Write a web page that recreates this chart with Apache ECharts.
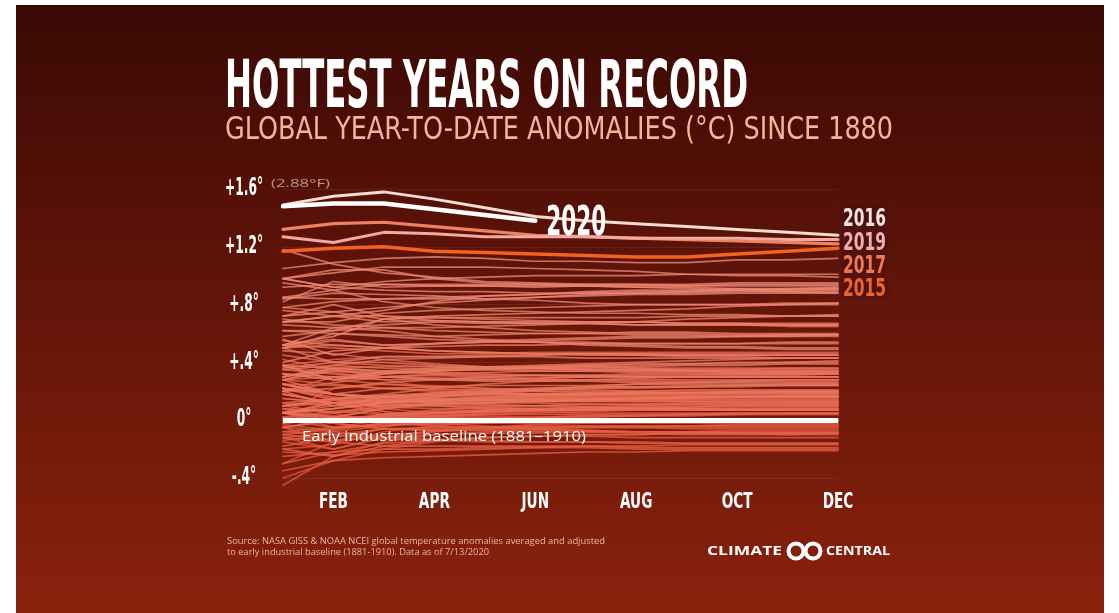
<!DOCTYPE html>
<html>
<head>
<meta charset="utf-8">
<script src="https://cdn.jsdelivr.net/npm/echarts@6/dist/echarts.min.js"></script>
<style>
  html, body { margin: 0; padding: 0; background: #fff; }
  #chart { width: 1119px; height: 613px; }
</style>
</head>
<body>
<div id="chart"></div>
<script>
// Month categories and y ticks
const months = ['JAN', 'FEB', 'MAR', 'APR', 'MAY', 'JUN', 'JUL', 'AUG', 'SEP', 'OCT', 'NOV', 'DEC'];
const yTicks = [-0.4, 0, 0.4, 0.8, 1.2, 1.6];
const yTickLabels = ['-.4°', '0°', '+.4°', '+.8°', '+1.2°', '+1.6°'];

// Year-to-date global anomalies (°C vs 1881–1910), Jan..Dec, one row per year
const ytd1880s = [
  [-.03,-.07,-.02,.03,.05,.06,.07,.08,.08,.09,.10,.10],
  [.05,.02,.08,.12,.15,.15,.17,.18,.18,.18,.18,.18],
  [.37,.33,.28,.22,.20,.18,.17,.17,.17,.16,.16,.16],
  [-.05,-.15,-.05,.02,.05,.07,.09,.10,.10,.10,.10,.10],
  [.10,.12,.06,.02,.01,.01,.00,.00,-.01,-.01,-.01,-.01],
  [-.30,-.15,-.10,-.08,-.06,-.05,-.05,-.05,-.06,-.06,-.06,-.06],
  [-.15,-.20,-.12,-.07,-.05,-.05,-.04,-.04,-.04,-.04,-.04,-.04],
  [-.40,-.28,-.20,-.15,-.12,-.11,-.10,-.10,-.09,-.09,-.09,-.09],
  [-.05,.00,-.02,.02,.04,.05,.06,.07,.08,.08,.09,.09],
  [.05,.22,.25,.24,.22,.20,.19,.18,.17,.17,.16,.16]
];
const ytd1890s = [
  [.05,-.02,-.06,-.07,-.06,-.07,-.08,-.08,-.08,-.08,-.08,-.08],
  [-.12,-.08,-.04,-.01,.01,.02,.03,.03,.04,.04,.04,.04],
  [.08,.05,-.02,-.03,-.02,-.01,-.01,.00,.00,.00,.00,.00],
  [-.45,-.25,-.15,-.10,-.08,-.06,-.05,-.05,-.04,-.04,-.04,-.04],
  [-.14,-.10,-.06,-.06,-.05,-.05,-.05,-.05,-.05,-.05,-.05,-.05],
  [-.20,-.17,-.08,-.04,-.01,.01,.02,.03,.03,.04,.04,.04],
  [.10,.12,.10,.12,.14,.15,.15,.16,.16,.16,.16,.16],
  [.12,.10,.12,.14,.16,.17,.17,.17,.16,.16,.16,.16],
  [.18,.12,.06,.03,.02,.01,.01,.00,.00,.00,.00,.00],
  [.05,-.05,.00,.04,.06,.07,.08,.09,.09,.10,.10,.10]
];
const ytd1900s = [
  [.00,.05,.10,.13,.15,.16,.17,.18,.18,.19,.19,.19],
  [.10,.15,.16,.15,.14,.14,.13,.13,.13,.12,.12,.12],
  [.22,.15,.08,.05,.03,.02,.01,.00,.00,-.01,-.01,-.01],
  [.05,.12,.04,-.02,-.04,-.06,-.07,-.08,-.09,-.09,-.10,-.10],
  [-.25,-.22,-.20,-.20,-.19,-.19,-.19,-.20,-.20,-.20,-.20,-.20],
  [-.12,-.20,-.12,-.08,-.05,-.03,-.02,-.01,.00,.00,.01,.01],
  [-.02,.00,.02,.05,.06,.06,.05,.05,.05,.05,.05,.05],
  [-.30,-.22,-.16,-.14,-.12,-.11,-.11,-.12,-.12,-.12,-.12,-.12],
  [-.05,-.08,-.12,-.13,-.14,-.15,-.15,-.15,-.16,-.16,-.16,-.16],
  [-.35,-.28,-.26,-.25,-.24,-.23,-.22,-.22,-.21,-.21,-.21,-.21]
];
const ytd1910s = [
  [-.08,-.10,-.13,-.14,-.15,-.15,-.15,-.16,-.16,-.16,-.16,-.16],
  [-.22,-.24,-.22,-.21,-.20,-.19,-.18,-.18,-.17,-.17,-.17,-.17],
  [.02,-.02,-.06,-.07,-.07,-.08,-.08,-.09,-.10,-.10,-.10,-.09],
  [-.10,-.14,-.12,-.10,-.09,-.09,-.08,-.08,-.08,-.07,-.07,-.07],
  [.00,-.02,.02,.05,.07,.08,.09,.10,.11,.11,.12,.12],
  [.05,.12,.14,.14,.14,.14,.14,.13,.13,.13,.13,.13],
  [.08,.02,-.02,-.04,-.05,-.06,-.07,-.08,-.08,-.09,-.09,-.09],
  [-.12,-.15,-.18,-.18,-.18,-.18,-.18,-.19,-.19,-.19,-.19,-.19],
  [-.18,-.12,-.06,-.05,-.05,-.04,-.04,-.04,-.04,-.03,-.03,-.03],
  [.05,.03,.01,-.01,-.01,.00,.00,.01,.01,.00,.00,.00]
];
const ytd1920s = [
  [.08,.06,.04,.02,.01,.01,.00,.00,.00,.00,.00,.00],
  [.15,.12,.11,.10,.09,.08,.08,.08,.07,.07,.08,.08],
  [-.08,-.05,-.03,-.02,-.02,-.01,-.01,-.01,-.01,-.01,-.01,-.01],
  [.00,-.05,-.04,-.02,-.01,-.01,.00,.00,.00,.01,.01,.01],
  [.05,.02,.02,.01,.01,.00,.00,.00,.00,.00,.00,.00],
  [-.10,-.06,-.02,.00,.01,.02,.03,.03,.04,.04,.05,.05],
  [.28,.25,.22,.20,.19,.18,.18,.17,.17,.17,.17,.17],
  [.06,.02,.02,.03,.04,.04,.04,.04,.04,.05,.05,.05],
  [.18,.12,.09,.08,.08,.07,.07,.07,.07,.07,.07,.07],
  [-.20,-.25,-.18,-.14,-.12,-.11,-.10,-.10,-.09,-.09,-.09,-.09]
];
const ytd1930s = [
  [.02,.06,.09,.10,.10,.10,.11,.11,.11,.11,.11,.11],
  [.10,.12,.14,.16,.17,.17,.18,.18,.18,.18,.18,.18],
  [.25,.18,.14,.13,.12,.12,.11,.11,.11,.11,.11,.11],
  [.05,.02,-.01,-.02,-.02,-.02,-.02,-.02,-.02,-.02,-.02,-.02],
  [.10,.05,.08,.11,.12,.13,.14,.14,.15,.15,.15,.15],
  [.22,.16,.12,.10,.08,.08,.07,.07,.07,.07,.07,.07],
  [.02,-.02,.04,.07,.09,.10,.11,.11,.12,.12,.12,.12],
  [.12,.15,.17,.19,.20,.21,.22,.22,.23,.23,.24,.24],
  [.28,.30,.30,.29,.28,.28,.28,.27,.27,.27,.27,.27],
  [.25,.24,.22,.21,.21,.22,.23,.23,.24,.24,.25,.25]
];
const ytd1940s = [
  [.20,.30,.33,.35,.36,.37,.38,.38,.39,.39,.40,.40],
  [.38,.42,.44,.44,.45,.45,.46,.46,.46,.46,.46,.46],
  [.45,.40,.38,.37,.36,.35,.35,.34,.34,.34,.34,.34],
  [.20,.26,.30,.32,.33,.34,.34,.35,.35,.35,.36,.36],
  [.52,.50,.48,.46,.46,.47,.47,.47,.47,.47,.47,.47],
  [.42,.35,.33,.35,.36,.37,.37,.36,.36,.36,.36,.36],
  [.32,.28,.25,.23,.22,.21,.21,.20,.20,.20,.20,.20],
  [.15,.12,.16,.19,.21,.22,.23,.23,.23,.24,.24,.24],
  [.22,.14,.13,.14,.15,.15,.16,.16,.16,.16,.16,.16],
  [.25,.18,.16,.15,.15,.15,.15,.15,.16,.16,.16,.16]
];
const ytd1950s = [
  [-.05,.00,.04,.06,.07,.08,.08,.09,.09,.10,.10,.10],
  [-.02,.02,.08,.12,.14,.16,.17,.18,.19,.19,.20,.20],
  [.35,.32,.30,.29,.29,.28,.28,.28,.28,.28,.28,.28],
  [.30,.36,.37,.37,.36,.36,.36,.36,.35,.35,.35,.35],
  [.05,.12,.12,.13,.13,.13,.13,.14,.14,.14,.14,.14],
  [.22,.18,.15,.14,.14,.13,.13,.13,.13,.13,.13,.13],
  [.05,.00,.03,.05,.06,.07,.07,.08,.08,.08,.08,.08],
  [.10,.15,.18,.22,.25,.27,.28,.29,.30,.31,.31,.32],
  [.48,.46,.42,.39,.37,.36,.35,.34,.34,.33,.33,.33],
  [.32,.28,.30,.31,.30,.29,.30,.30,.30,.30,.30,.30]
];
const ytd1960s = [
  [.28,.18,.16,.18,.20,.21,.22,.23,.23,.24,.24,.24],
  [.35,.38,.36,.35,.35,.34,.34,.33,.33,.33,.33,.33],
  [.38,.36,.34,.33,.32,.31,.31,.30,.30,.30,.30,.30],
  [.30,.35,.30,.28,.28,.29,.30,.31,.31,.32,.32,.32],
  [.22,.18,.14,.12,.11,.10,.09,.08,.08,.07,.07,.07],
  [.18,.12,.13,.13,.14,.14,.15,.15,.15,.16,.16,.16],
  [.10,.14,.17,.18,.19,.20,.20,.20,.21,.21,.21,.21],
  [.25,.18,.22,.23,.24,.24,.24,.25,.25,.25,.25,.25],
  [.05,.10,.16,.17,.18,.18,.18,.19,.19,.19,.19,.19],
  [.20,.22,.26,.28,.30,.31,.31,.32,.32,.32,.32,.32]
];
const ytd1970s = [
  [.28,.36,.34,.32,.31,.31,.30,.30,.30,.30,.30,.30],
  [.25,.18,.16,.17,.18,.18,.19,.19,.19,.19,.19,.19],
  [.05,.08,.12,.16,.19,.21,.23,.25,.26,.27,.28,.28],
  [.50,.52,.50,.48,.47,.46,.45,.45,.44,.44,.43,.43],
  [.05,.08,.12,.14,.16,.17,.18,.19,.19,.20,.20,.20],
  [.32,.30,.28,.28,.27,.27,.27,.26,.26,.26,.26,.26],
  [.20,.10,.10,.11,.12,.13,.14,.15,.16,.16,.17,.17],
  [.30,.38,.42,.43,.44,.45,.46,.46,.45,.45,.45,.45],
  [.36,.40,.40,.38,.37,.36,.35,.35,.34,.34,.34,.34],
  [.38,.28,.34,.36,.37,.38,.39,.40,.41,.42,.43,.43]
];
const ytd1980s = [
  [.50,.55,.52,.53,.54,.54,.54,.53,.53,.53,.53,.53],
  [.78,.75,.70,.66,.64,.62,.61,.60,.60,.59,.59,.59],
  [.28,.34,.32,.34,.36,.37,.38,.39,.39,.40,.40,.41],
  [.70,.66,.64,.62,.61,.60,.60,.59,.59,.58,.58,.58],
  [.50,.40,.44,.44,.44,.44,.43,.43,.43,.43,.43,.43],
  [.38,.28,.32,.34,.35,.36,.37,.37,.38,.38,.39,.39],
  [.55,.52,.50,.48,.47,.46,.46,.45,.45,.45,.45,.45],
  [.52,.56,.52,.53,.54,.55,.56,.57,.57,.58,.58,.59],
  [.76,.72,.72,.71,.70,.69,.68,.68,.67,.67,.66,.66],
  [.40,.48,.50,.51,.52,.52,.53,.53,.53,.53,.54,.54]
];
const ytd1990s = [
  [.62,.62,.70,.71,.71,.71,.71,.71,.72,.72,.72,.72],
  [.68,.72,.68,.69,.68,.68,.68,.68,.67,.67,.67,.67],
  [.66,.64,.62,.58,.56,.54,.52,.51,.50,.50,.49,.49],
  [.62,.60,.58,.56,.55,.54,.53,.52,.51,.51,.50,.50],
  [.56,.45,.50,.53,.55,.56,.57,.58,.58,.58,.59,.59],
  [.85,.90,.82,.78,.76,.75,.74,.74,.73,.73,.72,.72],
  [.50,.60,.59,.58,.59,.60,.60,.61,.61,.60,.60,.60],
  [.58,.62,.64,.64,.65,.66,.67,.68,.70,.71,.72,.73],
  [.82,.96,.92,.93,.93,.93,.93,.92,.91,.90,.89,.88],
  [.72,.80,.72,.69,.68,.67,.67,.66,.66,.66,.65,.65]
];
const ytd2000s = [
  [.52,.64,.66,.68,.67,.67,.67,.66,.66,.66,.66,.66],
  [.68,.68,.74,.76,.77,.78,.79,.80,.80,.80,.81,.81],
  [.98,1.04,1.04,.98,.95,.94,.93,.92,.92,.91,.90,.90],
  [.98,.92,.90,.89,.89,.88,.88,.88,.88,.89,.89,.89],
  [.84,.88,.87,.86,.84,.83,.81,.80,.80,.80,.80,.80],
  [.95,.90,.94,.94,.94,.94,.94,.94,.94,.95,.95,.95],
  [.78,.82,.84,.85,.86,.87,.88,.89,.89,.90,.90,.91],
  [1.18,1.08,1.02,.99,.96,.95,.94,.94,.93,.93,.93,.93],
  [.52,.58,.70,.72,.73,.74,.75,.76,.77,.79,.80,.81],
  [.85,.84,.84,.84,.84,.85,.87,.88,.89,.90,.91,.92]
];
const ytd2010s = [
  [.98,1.02,1.06,1.06,1.06,1.05,1.04,1.03,1.01,1.00,1.00,.99],
  [.72,.75,.78,.81,.83,.85,.86,.87,.87,.88,.88,.88],
  [.68,.72,.76,.82,.86,.87,.89,.90,.90,.91,.91,.91],
  [.92,.94,.94,.93,.93,.92,.93,.93,.93,.94,.94,.94],
  [.98,.92,.96,.98,.99,1.00,1.00,1.00,1.01,1.01,1.01,1.01],
  [1.17,1.19,1.20,1.17,1.16,1.15,1.14,1.13,1.13,1.15,1.17,1.19],
  [1.49,1.55,1.58,1.53,1.47,1.41,1.38,1.36,1.34,1.32,1.30,1.28],
  [1.32,1.36,1.37,1.34,1.31,1.28,1.27,1.26,1.25,1.24,1.23,1.22],
  [1.05,1.09,1.12,1.13,1.12,1.10,1.10,1.09,1.09,1.11,1.11,1.12],
  [1.27,1.23,1.30,1.29,1.27,1.27,1.27,1.26,1.26,1.26,1.25,1.25]
];
// 2020 so far (through June)
const ytd2020 = [1.48,1.50,1.50,1.46,1.42,1.38];

const decades = [ytd1880s, ytd1890s, ytd1900s, ytd1910s, ytd1920s, ytd1930s,
                 ytd1940s, ytd1950s, ytd1960s, ytd1970s, ytd1980s, ytd1990s, ytd2000s, ytd2010s];
const firstYear = 1880;

// Years called out in the right-hand column, top to bottom
const calloutYears = [2016, 2019, 2017, 2015];

// ---- styling ----
const highlight = {
  2015: { color: '#f3621f', width: 3.5 },
  2017: { color: '#ef8262', width: 3.2 },
  2019: { color: '#f1a9a1', width: 3 },
  2016: { color: '#f7dcd6', width: 3 },
  2020: { color: '#ffffff', width: 4.5 }
};
const calloutColors = { 2016: '#f8e2e0', 2019: '#f3b1ae', 2017: '#f07a52', 2015: '#f0652a' };

function fontAvailable(name) {
  const ctx = document.createElement('canvas').getContext('2d');
  const probe = 'HOTTEST YEARS 2020 abcxyz';
  return ['monospace', 'serif'].some(fb => {
    ctx.font = `bold 40px ${fb}`;
    const w0 = ctx.measureText(probe).width;
    ctx.font = `bold 40px "${name}", ${fb}`;
    return ctx.measureText(probe).width !== w0;
  });
}
const NARROW = ['Liberation Sans Narrow', 'DejaVu Sans Condensed', 'Roboto Condensed', 'Open Sans Condensed']
  .find(fontAvailable) || 'Roboto';
const BODY = 'Open Sans';

const measureCtx = document.createElement('canvas').getContext('2d');
function textWidth(text, font) {
  measureCtx.font = font;
  return measureCtx.measureText(text).width;
}
// Text squeezed or stretched horizontally to a given width (or by a given factor)
function fittedText(text, x, y, width, size, weight, family, color, opts) {
  opts = opts || {};
  const font = `${weight} ${size}px "${family}"`;
  const sx = opts.scale || width / textWidth(text, font);
  return {
    type: 'text', x: x, y: y, scaleX: sx, z: 100, silent: true,
    style: Object.assign({ text: text, font: font, fill: color, align: opts.align || 'left', verticalAlign: 'middle' },
                         opts.style || {})
  };
}

function yearColor(year) {
  const t = Math.min(1, Math.max(0, (year - firstYear) / 134));
  const a = [226, 80, 52], b = [236, 138, 118];
  const c = a.map((v, i) => Math.round(v + (b[i] - v) * t));
  return `rgba(${c[0]},${c[1]},${c[2]},0.78)`;
}

// ---- series ----
const series = [];
const rows = [];
decades.forEach((dec, di) => dec.forEach((vals, i) => rows.push({ year: firstYear + di * 10 + i, vals })));
rows.push({ year: 2020, vals: ytd2020 });

function lineSeries(year, vals, color, width, z) {
  return {
    type: 'line', name: String(year), data: vals, symbol: 'none', showSymbol: false,
    silent: true, animation: false, clip: false, z: z,
    lineStyle: { color: color, width: width, cap: 'round', join: 'round' },
    emphasis: { disabled: true }
  };
}
rows.filter(r => !highlight[r.year]).forEach(r => series.push(lineSeries(r.year, r.vals, yearColor(r.year), 1.7, 2)));

// Early industrial baseline at 0°
series.push({
  type: 'line', data: [], silent: true, animation: false, z: 3,
  markLine: {
    silent: true, symbol: 'none', animation: false,
    label: { show: false },
    lineStyle: { color: '#ffffff', width: 5, type: 'solid', opacity: 1 },
    data: [{ yAxis: 0 }]
  }
});

[2015, 2017, 2019, 2016, 2020].forEach((y, k) => {
  const r = rows.find(rr => rr.year === y);
  series.push(lineSeries(y, r.vals, highlight[y].color, highlight[y].width, 4 + k));
});

// ---- static graphics ----
const graphics = [
  {
    type: 'rect', z: -100, silent: true,
    shape: { x: 16, y: 5, width: 1088, height: 608 },
    style: {
      fill: new echarts.graphic.LinearGradient(0, 0, 0, 1, [
        { offset: 0, color: '#3a0904' },
        { offset: 0.45, color: '#601409' },
        { offset: 1, color: '#8a220d' }
      ])
    }
  },
  fittedText('HOTTEST YEARS ON RECORD', 225, 90, 523, 66, 'bold', NARROW, '#ffffff'),
  fittedText('GLOBAL YEAR-TO-DATE ANOMALIES (°C) SINCE 1880', 225, 131, 668, 32, 'normal', NARROW, '#f4b49c'),
  fittedText('(2.88°F)', 271, 184, 59, 11, 'normal', BODY, '#b99a93'),
  fittedText('Early industrial baseline (1881–1910)', 302, 437, 284, 15, 'normal', BODY, '#ffffff'),
  fittedText('Source: NASA GISS & NOAA NCEI global temperature anomalies averaged and adjusted', 227, 541, 378, 9, 'normal', BODY, '#eeb3a3'),
  fittedText('to early industrial baseline (1881-1910). Data as of 7/13/2020', 227, 552, 262, 9, 'normal', BODY, '#eeb3a3'),
  fittedText('CLIMATE', 707, 551, 75, 13, 'bold', BODY, '#ffffff'),
  fittedText('CENTRAL', 826, 551, 64, 13, 'bold', BODY, '#ffffff'),
  { type: 'circle', z: 100, silent: true, shape: { cx: 796, cy: 551, r: 7.5 }, style: { fill: 'none', stroke: '#ffffff', lineWidth: 4 } },
  { type: 'circle', z: 100, silent: true, shape: { cx: 813, cy: 551, r: 7.5 }, style: { fill: 'none', stroke: '#ffffff', lineWidth: 4 } }
];
calloutYears.forEach((y, i) => {
  graphics.push(fittedText(String(y), 843, 220 + i * 23.3, 43, 24, 'bold', NARROW, calloutColors[y], {
    style: { textShadowColor: 'rgba(40,6,30,0.9)', textShadowBlur: 8 }
  }));
});

const chart = echarts.init(document.getElementById('chart'), null, { renderer: 'canvas' });
chart.setOption({
  backgroundColor: '#ffffff',
  animation: false,
  grid: { left: 283, right: 281, top: 189, bottom: 135, containLabel: false, outerBoundsMode: 'none' },
  xAxis: {
    type: 'category', data: months, boundaryGap: false,
    axisLine: { show: false }, axisTick: { show: false }, splitLine: { show: false },
    axisLabel: { show: false }
  },
  yAxis: {
    type: 'value', min: yTicks[0], max: yTicks[yTicks.length - 1], interval: 0.4,
    axisLine: { show: false }, axisTick: { show: false },
    splitLine: { show: true, lineStyle: { color: 'rgba(255,220,210,0.08)', width: 1 } },
    axisLabel: { show: false }
  },
  graphic: { elements: graphics },
  series: series
});

// Condensed tick labels placed at the axes' own pixel positions
const yFont = `bold 24px "${NARROW}"`;
const yScale = 38 / textWidth('+1.2°', yFont);
yTicks.forEach((v, i) => {
  const py = chart.convertToPixel({ yAxisIndex: 0 }, v);
  graphics.push(fittedText(yTickLabels[i], 244, py, 0, 24, 'bold', NARROW, '#ffffff', { align: 'center', scale: yScale }));
});
const xFont = `bold 21px "${NARROW}"`;
const xScale = 29 / textWidth('FEB', xFont);
months.forEach((m, i) => {
  if (i % 2 !== 1) return;
  const px = chart.convertToPixel({ xAxisIndex: 0 }, i);
  graphics.push(fittedText(m, px, 503, 0, 21, 'bold', NARROW, '#ffffff', { align: 'center', scale: xScale }));
});

// "2020" label placed just past the end of the 2020 line
const last = ytd2020.length - 1;
const endPt = chart.convertToPixel({ gridIndex: 0 }, [last, ytd2020[last]]);
graphics.push(fittedText('2020', endPt[0] + 11, endPt[1] + 4, 60, 40, 'bold', NARROW, '#ffffff'));
chart.setOption({ graphic: { elements: graphics } }, { replaceMerge: ['graphic'] });
</script>
</body>
</html>
